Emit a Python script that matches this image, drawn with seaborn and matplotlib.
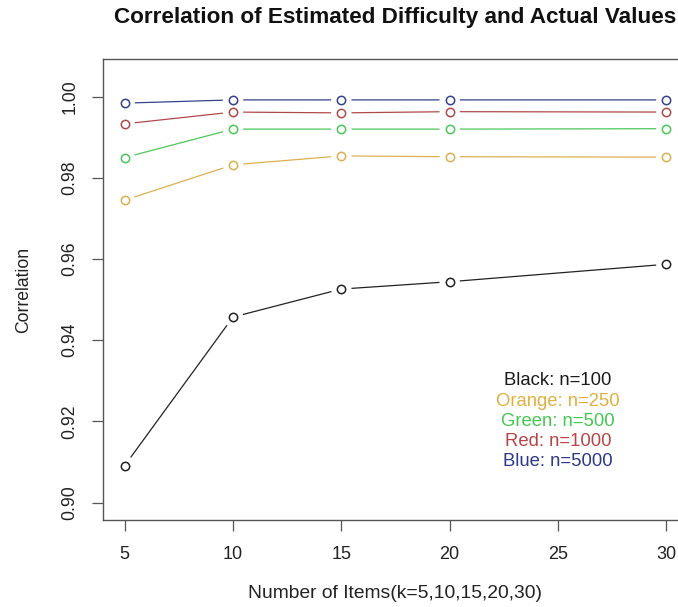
import matplotlib
matplotlib.use("Agg")
import matplotlib.pyplot as plt
import seaborn as sns
import pandas as pd

# ---- data ----
items = [5, 10, 15, 20, 30]
r_n100 = [0.9091, 0.9457, 0.9526, 0.9544, 0.9587]
r_n250 = [0.9745, 0.9832, 0.9854, 0.9852, 0.9851]
r_n500 = [0.9850, 0.9920, 0.9920, 0.9920, 0.9921]
r_n1000 = [0.9933, 0.9962, 0.9960, 0.9963, 0.9962]
r_n5000 = [0.9984, 0.9992, 0.9992, 0.9992, 0.9992]
series_names = ["n=100", "n=250", "n=500", "n=1000", "n=5000"]
legend_labels = ["Black: n=100", "Orange: n=250", "Green: n=500", "Red: n=1000", "Blue: n=5000"]
x_ticks = [5, 10, 15, 20, 25, 30]
y_ticks = [0.90, 0.92, 0.94, 0.96, 0.98, 1.00]
y_tick_labels = ["0.90", "0.92", "0.94", "0.96", "0.98", "1.00"]

colors = ["#222222", "#dcb050", "#4cc85a", "#b04a48", "#34428e"]
text_colors = ["#1a1a1a", "#e0b040", "#44c850", "#b84444", "#2c3888"]

all_vals = [r_n100, r_n250, r_n500, r_n1000, r_n5000]
df = pd.DataFrame({
    "k": items * len(series_names),
    "r": [v for vals in all_vals for v in vals],
    "series": [s for s in series_names for _ in items],
})
palette = dict(zip(series_names, colors))

sns.set_theme(style="white")
plt.rcParams["font.family"] = ["Liberation Sans", "DejaVu Sans"]

fig = plt.figure(figsize=(6.78, 6.07), dpi=100)
ax = fig.add_axes([103 / 678, 1 - 520 / 607, 585 / 678, 460.7 / 607])

# lines
sns.lineplot(data=df, x="k", y="r", hue="series", palette=palette, ax=ax,
             linewidth=0.9, legend=False, zorder=2, sort=True)
# white gaps around points (R type="b")
sns.scatterplot(data=df, x="k", y="r", color="white", s=215, edgecolor="none",
                ax=ax, legend=False, zorder=3)
# hollow circles
for name, c in zip(series_names, colors):
    sub = df[df["series"] == name]
    sns.lineplot(data=sub, x="k", y="r", ax=ax, linestyle="", marker="o",
                 markersize=6, markerfacecolor="none", markeredgecolor=c,
                 markeredgewidth=1.1, color=c, legend=False, zorder=4)

ax.set_xlim(4, 31)
ax.set_ylim(0.8957, 1.0092)
ax.set_xticks(x_ticks)
ax.set_xticklabels([str(t) for t in x_ticks])
ax.set_yticks(y_ticks)
ax.set_yticklabels(y_tick_labels, rotation=90, va="center")
ax.set_xlabel("")
ax.set_ylabel("")

for s in ["top", "left", "bottom", "right"]:
    ax.spines[s].set_visible(True)
    ax.spines[s].set_color("#555555")
    ax.spines[s].set_linewidth(1.0)

ax.tick_params(axis="both", which="major", direction="out", length=8, width=0.9,
               color="#555555", labelsize=13, labelcolor="#222222",
               bottom=True, left=True, top=False, right=False)
ax.tick_params(axis="x", pad=11)
ax.tick_params(axis="y", pad=9.5, labelsize=12.7)
ax.grid(False)

# legend text block
for i, (lab, tc) in enumerate(zip(legend_labels, text_colors)):
    ax.text(25, 0.93 - 0.005 * i, lab, color=tc, ha="center", va="center",
            fontsize=13.3, zorder=5)

cx = (103 + 688) / 2 / 678
fig.text(cx, 1 - 17 / 607, "Correlation of Estimated Difficulty and Actual Values",
         ha="center", va="center", fontsize=16.2, fontweight="bold", color="#111111")
fig.text(cx, 1 - 593 / 607, "Number of Items(k=5,10,15,20,30)",
         ha="center", va="center", fontsize=13.9, color="#222222")
fig.text(23.3 / 678, 1 - 289.7 / 607, "Correlation", rotation=90,
         ha="center", va="center", fontsize=12.7, color="#222222")

fig.savefig("out.png", dpi=100)
